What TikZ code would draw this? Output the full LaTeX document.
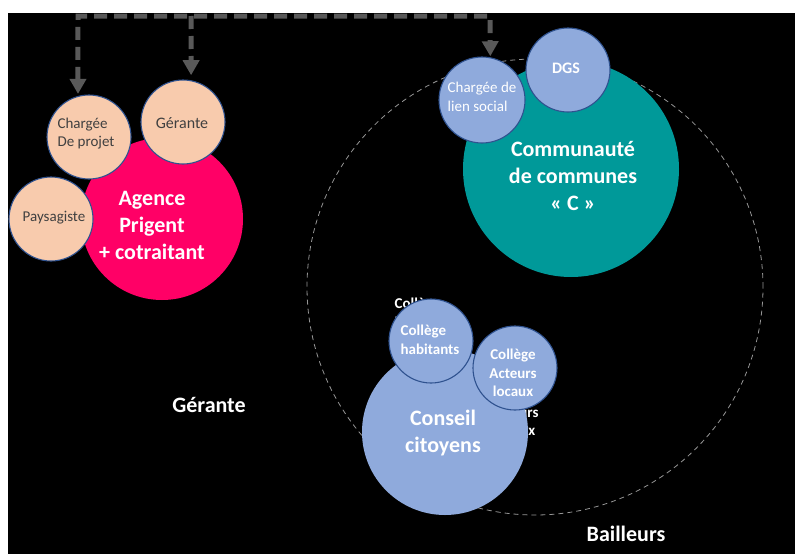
\documentclass[tikz,border=0pt]{standalone}
\usepackage{fontspec}
\setmainfont{Carlito}
\usetikzlibrary{arrows.meta}
\definecolor{pinkc}{RGB}{255,0,102}
\definecolor{tealc}{RGB}{0,153,153}
\definecolor{bluec}{RGB}{143,170,220}
\definecolor{peachc}{RGB}{248,203,173}
\definecolor{edgec}{RGB}{47,82,143}
\definecolor{darktxt}{RGB}{64,64,64}
\definecolor{arrowc}{RGB}{89,89,89}
\definecolor{dashc}{RGB}{150,150,150}
\begin{document}
\begin{tikzpicture}[x=1pt,y=-1pt,
  bub/.style={circle, inner sep=0pt, minimum size=#1},
  peachbub/.style={bub=84pt, fill=peachc, draw=edgec, line width=1.1pt},
  bluebub/.style={bub=#1, fill=bluec, draw=edgec, line width=1.1pt},
  smalldark/.style={inner sep=0pt, text=darktxt, font=\fontsize{15}{18.5}\selectfont},
  smallwhite/.style={inner sep=0pt, text=white, font=\fontsize{15}{18.5}\selectfont},
  smallbold/.style={inner sep=0pt, text=white, font=\bfseries\fontsize{15}{18.5}\selectfont, align=center},
  bigbold/.style={inner sep=0pt, text=white, font=\bfseries\fontsize{22}{27}\selectfont, align=center},
  conn/.style={draw=arrowc, line width=5pt, dash pattern=on 13pt off 7pt},
  tip/.style={-{Triangle[width=16pt,length=15pt]}},
  zone/.style={circle, inner sep=0pt, minimum size=456pt, draw=dashc, line width=0.8pt, dash pattern=on 5pt off 4pt}
]
\useasboundingbox (0,0) rectangle (795,554);
\fill[white] (0,0) rectangle (795,554);
\fill[black] (8,13) rectangle (795,554);

% dashed zone
\node[zone] (zone) at (535,287) {};

% left group
\node[bub=162pt, fill=pinkc] (agence) at (162,219) {};
\node[peachbub] (cdp) at (89,137) {};
\node[peachbub] (ger) at (183,122) {};
\node[peachbub] (pay) at (51,219) {};
\node[bigbold] (agence-t) at (152,225) {Agence\\Prigent\\+ cotraitant};
\node[smalldark, align=left] (cdp-t) at (86,133.5) {Chargée\\De projet};
\node[smalldark, font=\fontsize{16}{19}\selectfont] (ger-t) at (182,123) {Gérante};
\node[smalldark] (pay-t) at (54,218) {Paysagiste};

% community
\node[bub=216pt, fill=tealc] (cc) at (571,169) {};
\node[bluebub=84pt] (dgs) at (568,70) {};
\node[bluebub=86pt] (lien) at (482,100) {};
\node[bigbold] (cc-t) at (573,176) {Communauté\\de communes\\« C »};
\node[smallbold, font=\bfseries\fontsize{16}{19}\selectfont] (dgs-t) at (566,68) {DGS};
\node[smallwhite, align=left] (lien-t) at (482,97) {Chargée de\\lien social};

% conseil citoyens
\node[smallbold, align=left] (hid1) at (424,313) {Collège\\habitants};
\node[smallbold] (hid2) at (515,412) {Collège\\Acteurs\\locaux};
\node[bub=166pt, fill=bluec] (conseil) at (445,432) {};
\node[bluebub=84pt] (hab) at (431,341) {};
\node[bluebub=84pt] (act) at (515,368) {};
\node[bigbold] (conseil-t) at (443,433) {Conseil\\citoyens};
\node[smallbold, align=left] (hab-t) at (430,340) {Collège\\habitants};
\node[smallbold] (act-t) at (513,373) {Collège\\Acteurs\\locaux};

% free labels
\node[bigbold] (gerante) at (209,405) {Gérante};
\node[bigbold] (bailleurs) at (626,534) {Bailleurs};

% connectors
\coordinate (jl) at (78,16);
\coordinate (jm) at (191,16);
\coordinate (jr) at (490,16);
\draw[conn, {Triangle[width=16pt,length=15pt]}-{Triangle[width=16pt,length=15pt]}, shorten <=2pt, shorten >=1pt]
  (cdp.105) -- (jl) -- (jr) -- (lien.79);
\draw[conn, tip, shorten >=5pt] (jm) -- (ger.79);
\end{tikzpicture}
\end{document}
